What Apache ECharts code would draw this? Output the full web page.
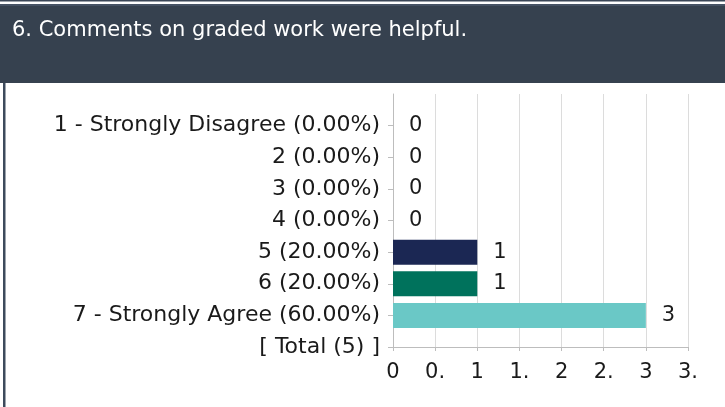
<!DOCTYPE html>
<html>
<head>
<meta charset="utf-8">
<title>Comments on graded work</title>
<script src="https://cdn.jsdelivr.net/npm/echarts@6/dist/echarts.min.js"></script>
<style>
  html, body { margin: 0; padding: 0; background: #fff; }
  #chart { width: 725px; height: 407px; }
</style>
</head>
<body>
<div id="chart"></div>
<script>
const titleText = '6. Comments on graded work were helpful.'
const categories = [
  '1 - Strongly Disagree (0.00%)',
  '2 (0.00%)',
  '3 (0.00%)',
  '4 (0.00%)',
  '5 (20.00%)',
  '6 (20.00%)',
  '7 - Strongly Agree (60.00%)',
  '[ Total (5) ]'
]
const counts = [0, 0, 0, 0, 1, 1, 3, null]
const barColors = ['#1b2753', '#1b2753', '#1b2753', '#1b2753', '#1b2753', '#00725c', '#6ac8c6', '#6ac8c6']
const xTickLabels = ['0', '0.', '1', '1.', '2', '2.', '3', '3.']

const font = 'DejaVu Sans'
const chart = echarts.init(document.getElementById('chart'))

const option = {
  animation: false,
  backgroundColor: '#fff',
  graphic: [
    { type: 'rect', shape: { x: 0, y: 0, width: 725, height: 1.5 }, style: { fill: '#3b4657' } },
    { type: 'rect', shape: { x: 0, y: 4, width: 725, height: 79 }, style: { fill: '#36414f' } },
    { type: 'rect', shape: { x: 0, y: 4, width: 725, height: 2 }, style: { fill: '#465264' } },
    { type: 'rect', shape: { x: 3, y: 83, width: 2.5, height: 324 }, style: { fill: '#3d4a5c' } }
  ],
  title: {
    text: titleText,
    left: 7,
    top: 15,
    textStyle: {
      color: '#ffffff',
      fontFamily: font,
      fontSize: 21,
      fontWeight: 'normal'
    }
  },
  grid: {
    left: 393,
    right: 37,
    top: 94,
    bottom: 60
  },
  xAxis: {
    type: 'value',
    min: 0,
    max: 3.5,
    interval: 0.5,
    axisLine: { show: true, lineStyle: { color: '#bdbdbd' } },
    axisTick: { show: true, length: 4, lineStyle: { color: '#bdbdbd' } },
    axisLabel: {
      color: '#1a1a1a',
      fontFamily: font,
      fontSize: 21,
      margin: 15,
      showMaxLabel: true,
      formatter: v => xTickLabels[Math.round(v / 0.5)]
    },
    splitLine: { show: true, lineStyle: { color: '#dcdcdc' } }
  },
  yAxis: {
    type: 'category',
    inverse: true,
    boundaryGap: false,
    // blank slot on top keeps the first row one step below the grid top
    data: [''].concat(categories),
    axisLine: { show: true, lineStyle: { color: '#bdbdbd' } },
    axisTick: {
      show: true,
      length: 5,
      interval: (i, v) => v !== '',
      lineStyle: { color: '#bdbdbd' }
    },
    axisLabel: {
      color: '#1a1a1a',
      fontFamily: font,
      fontSize: 22,
      margin: 13,
      interval: 0
    },
    splitLine: { show: false }
  },
  series: [
    {
      type: 'bar',
      barWidth: 25,
      data: counts.map((v, i) => ({
        value: [v === null ? '-' : v, categories[i]],
        itemStyle: { color: barColors[i] }
      })),
      label: {
        show: true,
        position: 'right',
        distance: 16,
        color: '#1a1a1a',
        fontFamily: font,
        fontSize: 21,
        formatter: p => (p.value[0] === '-' ? '' : String(p.value[0]))
      }
    }
  ]
}

chart.setOption(option)

window.addEventListener('resize', () => chart.resize())
</script>
</body>
</html>
